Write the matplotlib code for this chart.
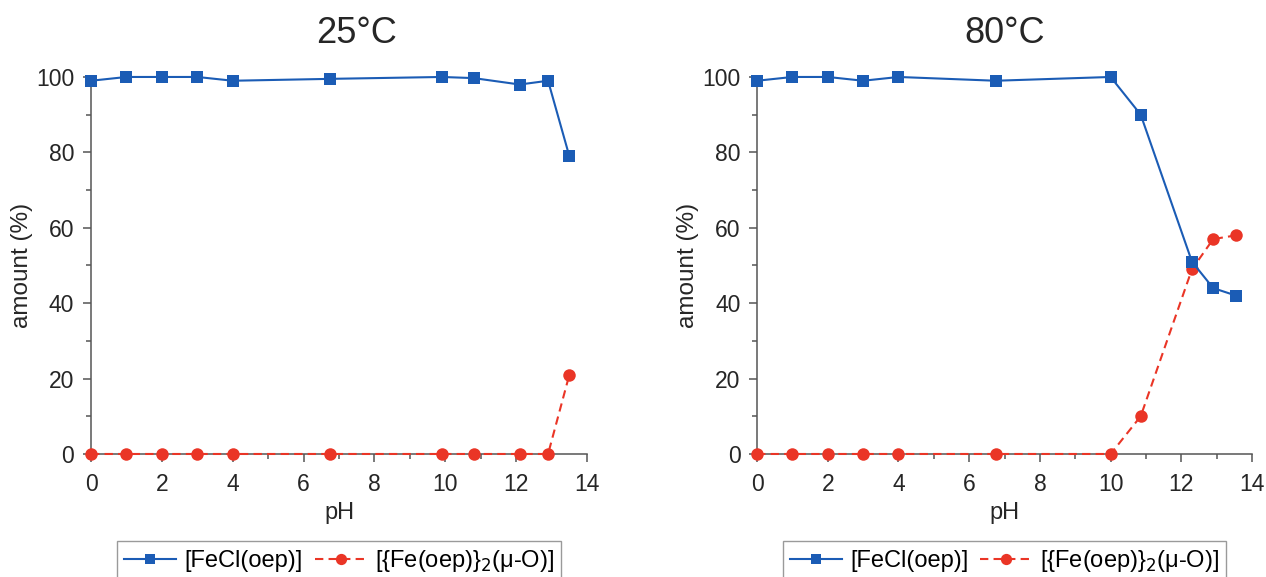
import matplotlib
matplotlib.use("Agg")
import matplotlib.pyplot as plt
from matplotlib.ticker import MultipleLocator

plt.rcParams["font.family"] = ["Liberation Sans", "DejaVu Sans"]

BLUE = "#1b5cb5"
RED = "#ea3526"
AXIS = "#555555"
TEXT = "#262626"

# 25 °C series
ph_25 = [0, 1, 2, 3, 4, 6.75, 9.9, 10.8, 12.1, 12.9, 13.5]
fecl_25 = [99, 100, 100, 100, 99, 99.5, 100, 99.7, 98, 99, 79]
oxo_25 = [0, 0, 0, 0, 0, 0, 0, 0, 0, 0, 21]

# 80 °C series
ph_80 = [0, 1, 2, 3, 4, 6.75, 10, 10.85, 12.3, 12.9, 13.55]
fecl_80 = [99, 100, 100, 99, 100, 99, 100, 90, 51, 44, 42]
oxo_80 = [0, 0, 0, 0, 0, 0, 0, 10, 49, 57, 58]

titles = ["25°C", "80°C"]
label_a = "[FeCl(oep)]"
label_b = r"[{Fe(oep)}$_2$(μ-O)]"

fig = plt.figure(figsize=(12.66, 5.77), dpi=100)
ax_l = fig.add_axes([0.0719, 0.2132, 0.3918, 0.6534])
ax_r = fig.add_axes([0.598, 0.2132, 0.391, 0.6534])

for ax, ph, a, b, title, tx in [
    (ax_l, ph_25, fecl_25, oxo_25, titles[0], 0.536),
    (ax_r, ph_80, fecl_80, oxo_80, titles[1], 0.5),
]:
    ax.plot(ph, b, color=RED, lw=1.5, dashes=(4, 2.5), marker="o", ms=9,
            mec=RED, mew=0, label=label_b, clip_on=False, zorder=3)
    ax.plot(ph, a, color=BLUE, lw=1.5, marker="s", ms=8,
            mec=BLUE, mew=0, label=label_a, clip_on=False, zorder=4)

    ax.set_xlim(0, 14)
    ax.set_ylim(0, 100)
    ax.xaxis.set_major_locator(MultipleLocator(2))
    ax.xaxis.set_minor_locator(MultipleLocator(1))
    ax.yaxis.set_major_locator(MultipleLocator(20))
    ax.yaxis.set_minor_locator(MultipleLocator(10))

    for side in ("top", "right"):
        ax.spines[side].set_visible(False)
    for side in ("left", "bottom"):
        ax.spines[side].set_color(AXIS)
        ax.spines[side].set_linewidth(1.1)

    ax.tick_params(which="major", direction="out", length=6, width=1.1,
                   color=AXIS, labelsize=16.5, labelcolor=TEXT, pad=6)
    ax.tick_params(axis="x", which="major", pad=8)
    ax.tick_params(which="minor", direction="out", length=3.5, width=1.1,
                   color=AXIS)

    ax.set_xlabel("pH", fontsize=17, color=TEXT)
    ax.xaxis.set_label_coords(0.5, -0.128)
    ax.set_ylabel("amount (%)", fontsize=17.5, color=TEXT)
    ax.yaxis.set_label_coords(-0.117, 0.5)
    ax.set_title(title, fontsize=26, color=TEXT, x=tx, y=1.09, pad=0)

    handles, labels = ax.get_legend_handles_labels()
    leg = ax.legend(handles[::-1], labels[::-1], loc="upper center",
                    bbox_to_anchor=(0.5, -0.231), ncol=2, fontsize=17,
                    frameon=True, fancybox=False, framealpha=1,
                    edgecolor="#9a9a9a", handlelength=2.2, columnspacing=0.5,
                    handletextpad=0.35, borderpad=0.3, borderaxespad=0,
                    markerscale=0.9)
    leg.get_frame().set_linewidth(1.0)

fig.savefig("out.png", dpi=100)
